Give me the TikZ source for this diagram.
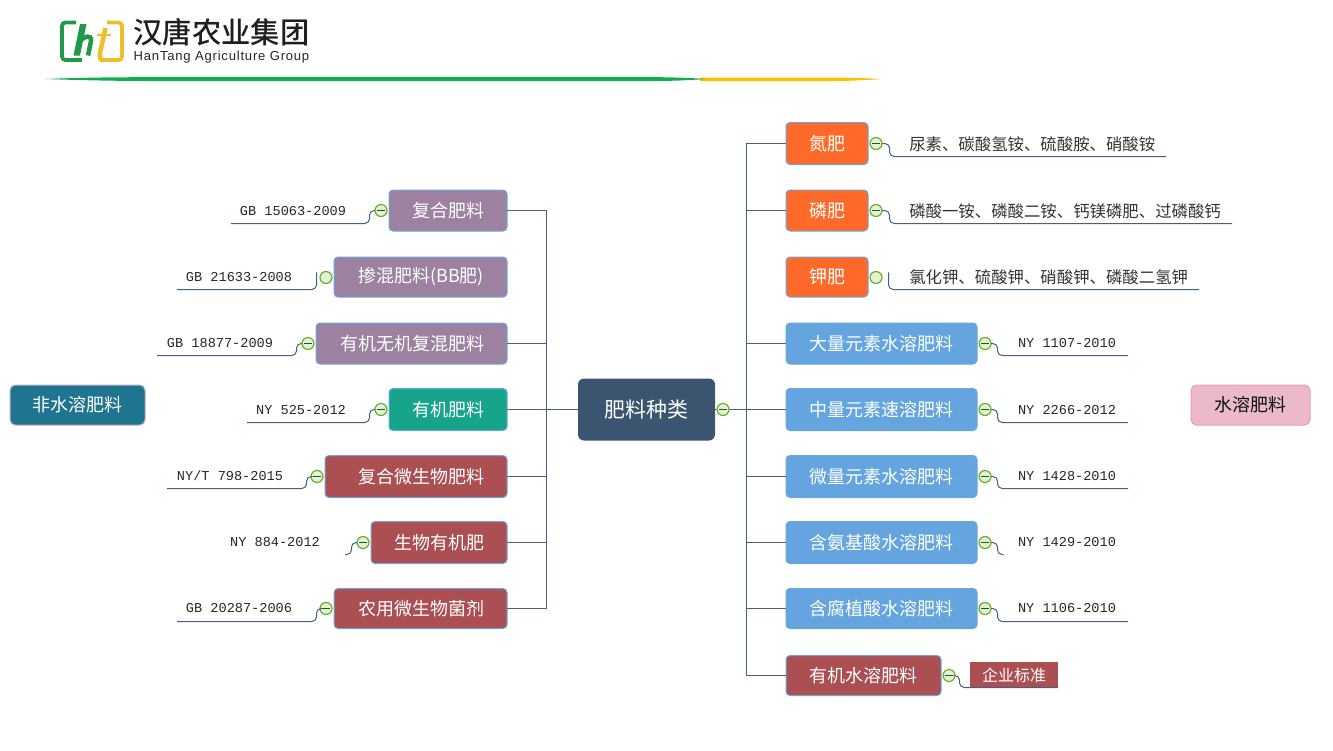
\documentclass[tikz,border=0pt]{standalone}
\usepackage{fontspec}
\setmainfont{Noto Sans CJK SC}
\newfontfamily\stdfont{Liberation Mono}
\newfontfamily\logolat[LetterSpace=6]{Liberation Sans}
\newfontfamily\logocjk{Noto Sans CJK SC Medium}
\definecolor{linec}{HTML}{44607F}
\definecolor{edgeb}{HTML}{6AA7DC}
\definecolor{purplec}{HTML}{9C82A0}
\definecolor{tealc}{HTML}{16A58A}
\definecolor{redc}{HTML}{AB4F52}
\definecolor{orangec}{HTML}{FF6A2A}
\definecolor{bluec}{HTML}{64A5DF}
\definecolor{navyc}{HTML}{3B5470}
\definecolor{sidec}{HTML}{1F758F}
\definecolor{pinkc}{HTML}{EBB9C8}
\definecolor{greenk}{HTML}{6AB023}
\definecolor{logog}{HTML}{1F9A48}
\definecolor{logoy}{HTML}{F0BE2C}
\definecolor{barg}{HTML}{10AE4F}
\definecolor{bary}{HTML}{FFC000}
\tikzset{
  x=0.75pt,y=-0.75pt,
  conn/.style={draw=linec,line width=0.75pt},
  lead/.style={conn,rounded corners=3.5pt},
  topic/.style n args={4}{draw=edgeb,line width=0.75pt,rounded corners=3pt,fill=#1,
     text=white,font=\fontsize{13.5}{16}\selectfont,outer sep=0pt,
     minimum height=#3*0.75pt,inner xsep=17.25pt,inner ysep=0pt,
     text width=(#2-46)*0.75pt,align=#4},
  ltopic/.style n args={3}{topic={#1}{#2}{#3}{right},anchor=east},
  rtopic/.style n args={3}{topic={#1}{#2}{#3}{left},anchor=west},
  knob/.style={circle,draw=greenk,line width=0.9pt,fill=white!82!greenk,minimum size=9pt,inner sep=0pt,outer sep=0pt},
  knobm/.style={knob,path picture={\draw[logog!60!black,line width=0.65pt]
      ([xshift=1.7pt]path picture bounding box.west) -- ([xshift=-1.7pt]path picture bounding box.east);}},
  stdtext/.style={font=\stdfont\fontsize{10.2}{12}\selectfont,text=black!85,inner sep=0pt},
  desc/.style={font=\fontsize{12.3}{14}\selectfont,text=black!80,inner sep=0pt,anchor=west},
  sidebox/.style={rounded corners=4pt,line width=0.75pt,minimum height=30pt,inner sep=0pt,outer sep=0pt,font=\fontsize{13.5}{16}\selectfont},
}
\newcommand{\leaderL}[5]{% name, start coord, stub x, line y, end x
  \coordinate (#1s) at (#3,0); \coordinate (#1t) at (#3,#4); \coordinate (#1e) at (#5,#4);
  \draw[lead] (#2) -- (#2 -| #1s) -- (#1t) -- (#1e);}
\begin{document}
\begin{tikzpicture}
\useasboundingbox (0,0) rectangle (1333,750);
% logo
\draw[logog,line width=2.8pt,rounded corners=2.5pt,line cap=butt] (76,22.5) -- (62,22.5) -- (62,60) -- (82,60);
\fill[logog] (80,24) -- (86.5,24) -- (80,55.5) -- (73.5,55.5) -- cycle;
\draw[logog,line width=3.4pt] (79,42) .. controls (84,36) and (92,34) .. (91,41) -- (88,55.5);
\draw[logoy,line width=2.8pt,rounded corners=2.5pt,line cap=butt] (107,22.5) -- (122,22.5) -- (122,60) -- (100,60);
\draw[logoy,line width=3.4pt] (105.5,28) -- (100,53) .. controls (99,59) and (101,60) .. (104,60);
\draw[logoy,line width=1.6pt] (97,35) -- (111,35);
\node[font=\logocjk\fontsize{22}{24}\selectfont,text=black!88,inner sep=0pt,anchor=center] (logocn) at (221.5,32.5) {汉唐农业集团};
\node[font=\logolat\fontsize{9.8}{10}\selectfont,text=black!85,inner sep=0pt] (logoen) at (221.5,57) {HanTang Agriculture Group};
\fill[bary] (700,77.5) -- (840,77.5) .. controls (860,78) and (875,78.6) .. (883,79) .. controls (875,79.4) and (860,80.6) .. (840,81) -- (700,81) -- cycle;
\fill[barg] (45,79) .. controls (80,77.6) and (110,77.3) .. (140,77.2) -- (660,77.2) .. controls (680,77.5) and (695,78.2) .. (706,79) .. controls (695,79.8) and (680,80.7) .. (660,81) -- (140,81) .. controls (110,80.8) and (80,80.2) .. (45,79) -- cycle;
% centre and trunks
\node[fill=navyc,rounded corners=4.5pt,minimum width=102.75pt,minimum height=46.5pt,inner sep=0pt,outer sep=0pt,text=white,font=\fontsize{15.75}{18}\selectfont] (c) at (646.5,409.5) {肥料种类};
\coordinate (tl) at (546.5,409.5);
\coordinate (tr) at (746.5,409.5);
% left topics
\node[ltopic={purplec}{118}{41}] (l1) at (507,210.5) {复合肥料};
\node[ltopic={purplec}{173}{40}] (l2) at (507,277) {掺混肥料(BB肥)};
\node[ltopic={purplec}{191}{41}] (l3) at (507,343.5) {有机无机复混肥料};
\node[ltopic={tealc}{118}{42}] (l4) at (507,409.5) {有机肥料};
\node[ltopic={redc}{182}{42}] (l5) at (507,476.5) {复合微生物肥料};
\node[ltopic={redc}{136}{42}] (l6) at (507,542.5) {生物有机肥};
\node[ltopic={redc}{173}{40}] (l7) at (507,608.5) {农用微生物菌剂};
% right topics
\node[rtopic={orangec}{82}{42}] (r1) at (786,143.5) {氮肥};
\node[rtopic={orangec}{82}{41}] (r2) at (786,210.5) {磷肥};
\node[rtopic={orangec}{82}{40}] (r3) at (786,277) {钾肥};
\node[rtopic={bluec}{191}{41}] (r4) at (786,343.5) {大量元素水溶肥料};
\node[rtopic={bluec}{191}{42}] (r5) at (786,409.5) {中量元素速溶肥料};
\node[rtopic={bluec}{191}{42}] (r6) at (786,476.5) {微量元素水溶肥料};
\node[rtopic={bluec}{191}{42}] (r7) at (786,542.5) {含氨基酸水溶肥料};
\node[rtopic={bluec}{191}{40}] (r8) at (786,608.5) {含腐植酸水溶肥料};
\node[rtopic={redc}{155}{40}] (r9) at (786,675.5) {有机水溶肥料};
% trunk connectors
\draw[conn] (l1.east) -- (l1.east -| tl) -- (l7.east -| tl) -- (l7.east);
\foreach \n in {3,5,6}{\draw[conn] (l\n.east) -- (l\n.east -| tl);}
\draw[conn] (l4.east) -- (c.west);
\draw[conn] (r1.west) -- (r1.west -| tr) -- (r9.west -| tr) -- (r9.west);
\foreach \n in {2,4,6,7,8}{\draw[conn] (r\n.west) -- (r\n.west -| tr);}
\draw[conn] (c.east) -- (r5.west);
% knobs
\node[knobm] (kc) at (723,409.5) {};
\node[knobm] (k1) at (381,210.5) {};
\node[knob]  (k2) at (326,277.5) {};
\node[knobm] (k3) at (308,343.5) {};
\node[knobm] (k4) at (381,409.5) {};
\node[knobm] (k5) at (317,476.5) {};
\node[knobm] (k6) at (363,542.5) {};
\node[knobm] (k7) at (326,608.5) {};
\node[knobm] (m1) at (876,143.5) {};
\node[knobm] (m2) at (876,210.5) {};
\node[knob]  (m3) at (876,277.5) {};
\node[knobm] (m4) at (985,343.5) {};
\node[knobm] (m5) at (985,409.5) {};
\node[knobm] (m6) at (985,476.5) {};
\node[knobm] (m7) at (985,542.5) {};
\node[knobm] (m8) at (985,608.5) {};
\node[knobm] (m9) at (949,675.5) {};
% leaders
\leaderL{a1}{k1.west}{369.5}{223.5}{231}
\coordinate (a2b) at (316.5,277);
\leaderL{a2}{a2b}{316.5}{289.5}{177}
\leaderL{a3}{k3.west}{296.5}{355.5}{157}
\leaderL{a4}{k4.west}{369.5}{422.5}{247}
\leaderL{a5}{k5.west}{306.5}{488.5}{167}
\leaderL{a6}{k6.west}{351.5}{554.5}{345}
\leaderL{a7}{k7.west}{316.5}{621.5}{177}
\leaderL{b1}{m1.east}{889.5}{156.5}{1166}
\leaderL{b2}{m2.east}{889.5}{223.5}{1232}
\coordinate (b3b) at (888.5,277);
\leaderL{b3}{b3b}{888.5}{289.5}{1199}
\leaderL{b4}{m4.east}{997.5}{355.5}{1128}
\leaderL{b5}{m5.east}{997.5}{422.5}{1128}
\leaderL{b6}{m6.east}{997.5}{488.5}{1128}
\leaderL{b7}{m7.east}{997.5}{554.5}{1002}
\leaderL{b8}{m8.east}{997.5}{621.5}{1128}
\node[fill=redc,minimum width=66pt,minimum height=19.5pt,inner sep=0pt,text=white,font=\fontsize{12}{14}\selectfont] (tag) at (1014,675) {企业标准};
\leaderL{b9}{m9.east}{959.5}{687.5}{1058}
% leader texts
\node[stdtext] (s1) at (293,211) {GB 15063-2009};
\node[stdtext] (s2) at (239,277) {GB 21633-2008};
\node[stdtext] (s3) at (220,343) {GB 18877-2009};
\node[stdtext] (s4) at (301,410) {NY 525-2012};
\node[stdtext] (s5) at (230,476) {NY/T 798-2015};
\node[stdtext] (s6) at (275,542) {NY 884-2012};
\node[stdtext] (s7) at (239,608) {GB 20287-2006};
\node[stdtext] (t4) at (1067,343) {NY 1107-2010};
\node[stdtext] (t5) at (1067,410) {NY 2266-2012};
\node[stdtext] (t6) at (1067,476) {NY 1428-2010};
\node[stdtext] (t7) at (1067,542) {NY 1429-2010};
\node[stdtext] (t8) at (1067,608) {NY 1106-2010};
\node[desc] (d1) at (909,144) {尿素、碳酸氢铵、硫酸胺、硝酸铵};
\node[desc] (d2) at (909,211) {磷酸一铵、磷酸二铵、钙镁磷肥、过磷酸钙};
\node[desc] (d3) at (909,277) {氯化钾、硫酸钾、硝酸钾、磷酸二氢钾};
% side boxes
\node[sidebox,fill=sidec,draw=pinkc!80!sidec,text=white,minimum width=101.25pt] (nw) at (77.5,405) {非水溶肥料};
\node[sidebox,fill=pinkc,draw=pinkc!85!red,text=black!80!navyc,minimum width=89.25pt] (wa) at (1250.5,405) {水溶肥料};
\end{tikzpicture}
\end{document}
